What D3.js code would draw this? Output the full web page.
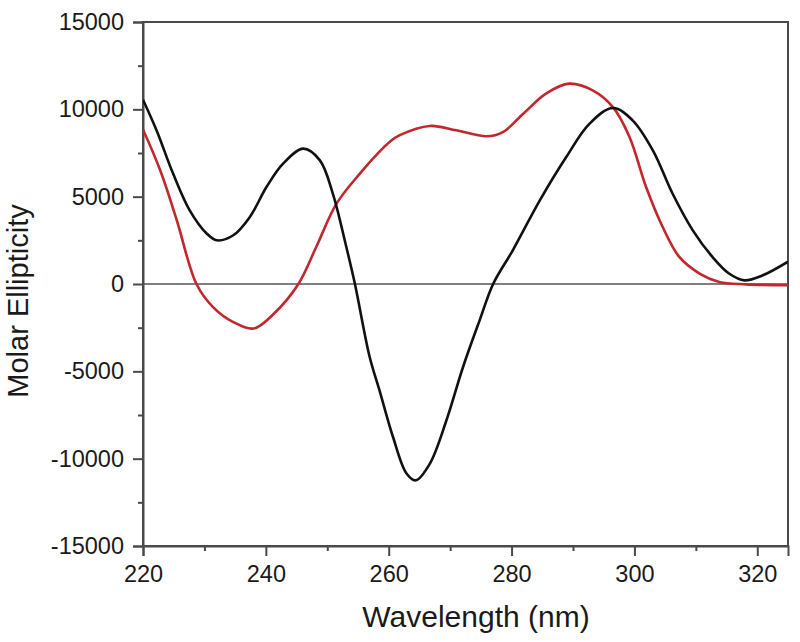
<!DOCTYPE html>
<html>
<head>
<meta charset="utf-8">
<script src="https://cdn.jsdelivr.net/npm/d3@7"></script>
<style>
  html, body { margin: 0; padding: 0; background: #fff; }
  svg { display: block; }
  text { font-family: "Liberation Sans", Arial, Helvetica, sans-serif; fill: #1a1a1a; }
</style>
</head>
<body>
<svg id="chart" width="800" height="642"></svg>
<script>
// Wavelength (nm) and molar ellipticity for the black spectrum
const blackWavelength = [220, 222.2, 224.9, 227.6, 230.4, 232, 234.7, 237.4, 240.1, 242.8, 246.1, 248.8, 250.9, 253.1, 254.5, 256.9, 258.5, 260.7, 262.9, 264.4, 266.7, 269.4, 272.1, 274.8, 277, 280.2, 284.6, 288.9, 292.7, 296.5, 299.7, 303.0, 306.2, 309.5, 312.7, 315.4, 317.9, 320.9, 325];
const blackEllipticity = [10550, 8800, 6320, 4220, 2880, 2500, 2790, 3840, 5550, 6890, 7750, 7080, 5180, 2120, 0, -4180, -6090, -8760, -10850, -11240, -10280, -7800, -4750, -2080, 0, 1930, 4790, 7270, 9180, 10080, 9370, 7650, 5180, 3070, 1550, 600, 210, 500, 1280];

// Wavelength (nm) and molar ellipticity for the red spectrum
const redWavelength = [220, 222.8, 225.5, 228.7, 231.4, 234.7, 238.0, 241.3, 245.3, 248.2, 251.5, 255.3, 258.5, 260.2, 261.8, 266.7, 271, 275.9, 278.6, 281.9, 285.6, 289.4, 293.2, 296.5, 299.2, 301.9, 304.6, 307.3, 310.6, 313.8, 318.2, 325];
const redEllipticity = [8850, 6510, 3650, 0, -1320, -2180, -2550, -1700, 0, 2120, 4600, 6320, 7580, 8150, 8520, 9050, 8800, 8460, 8700, 9750, 10900, 11470, 11090, 10130, 8420, 5550, 3260, 1550, 600, 120, -20, -70];

const xTickValues = [220, 240, 260, 280, 300, 320];
const xMinorTicks = [230, 250, 270, 290, 310];
const yTickValues = [-15000, -10000, -5000, 0, 5000, 10000, 15000];
const yMinorTicks = [-12500, -7500, -2500, 2500, 7500, 12500];

const xTitle = "Wavelength (nm)";
const yTitle = "Molar Ellipticity";

const svg = d3.select("#chart");
const m = { left: 143, right: 12, top: 22, bottom: 96 };
const W = 800, H = 642;

const x = d3.scaleLinear().domain([220, 325]).range([m.left, W - m.right]);
const y = d3.scaleLinear().domain([-15000, 15000]).range([H - m.bottom, m.top]);

const axisColor = "#4a4a4a";
const fmt = d => String(d);

// frame (top and right without ticks)
svg.append("rect")
  .attr("x", x(220)).attr("y", y(15000))
  .attr("width", x(325) - x(220)).attr("height", y(-15000) - y(15000))
  .attr("fill", "none").attr("stroke", axisColor).attr("stroke-width", 2);

// zero line
svg.append("line")
  .attr("x1", x(220)).attr("x2", x(325))
  .attr("y1", y(0)).attr("y2", y(0))
  .attr("stroke", "#555").attr("stroke-width", 1.6);

// X axis
const xAxis = svg.append("g")
  .attr("transform", `translate(0,${y(-15000)})`)
  .call(d3.axisBottom(x).tickValues(xTickValues).tickSize(10).tickPadding(9).tickFormat(fmt));
xAxis.select(".domain").attr("stroke", axisColor).attr("stroke-width", 2);
xAxis.selectAll(".tick line").attr("stroke", axisColor).attr("stroke-width", 2);
xAxis.selectAll(".tick text").style("font-size", "23.5px").attr("fill", "#1a1a1a");

const xMinor = svg.append("g")
  .attr("transform", `translate(0,${y(-15000)})`)
  .call(d3.axisBottom(x).tickValues(xMinorTicks).tickSize(5).tickFormat(""));
xMinor.select(".domain").remove();
xMinor.selectAll(".tick line").attr("stroke", axisColor).attr("stroke-width", 2);

// Y axis
const yAxis = svg.append("g")
  .attr("transform", `translate(${x(220)},0)`)
  .call(d3.axisLeft(y).tickValues(yTickValues).tickSize(10).tickPadding(9).tickFormat(fmt));
yAxis.select(".domain").attr("stroke", axisColor).attr("stroke-width", 2);
yAxis.selectAll(".tick line").attr("stroke", axisColor).attr("stroke-width", 2);
yAxis.selectAll(".tick text").style("font-size", "23.5px").attr("fill", "#1a1a1a");

const yMinor = svg.append("g")
  .attr("transform", `translate(${x(220)},0)`)
  .call(d3.axisLeft(y).tickValues(yMinorTicks).tickSize(5).tickFormat(""));
yMinor.select(".domain").remove();
yMinor.selectAll(".tick line").attr("stroke", axisColor).attr("stroke-width", 2);

// curves
const line = d3.line()
  .x(d => x(d[0])).y(d => y(d[1]))
  .curve(d3.curveCatmullRom.alpha(0.5));

svg.append("clipPath").attr("id", "clip")
  .append("rect").attr("x", x(220)).attr("y", y(15000))
  .attr("width", x(325) - x(220)).attr("height", y(-15000) - y(15000));

svg.append("path")
  .datum(d3.zip(redWavelength, redEllipticity))
  .attr("d", line)
  .attr("clip-path", "url(#clip)")
  .attr("fill", "none").attr("stroke", "#c1272d").attr("stroke-width", 2.6)
  .attr("stroke-linejoin", "round");

svg.append("path")
  .datum(d3.zip(blackWavelength, blackEllipticity))
  .attr("d", line)
  .attr("clip-path", "url(#clip)")
  .attr("fill", "none").attr("stroke", "#111").attr("stroke-width", 2.6)
  .attr("stroke-linejoin", "round");

// titles
svg.append("text")
  .attr("x", 476).attr("y", 627)
  .attr("text-anchor", "middle")
  .style("font-size", "30px")
  .text(xTitle);

svg.append("text")
  .attr("transform", `translate(28,${301}) rotate(-90)`)
  .attr("text-anchor", "middle")
  .style("font-size", "29px")
  .text(yTitle);
</script>
</body>
</html>
